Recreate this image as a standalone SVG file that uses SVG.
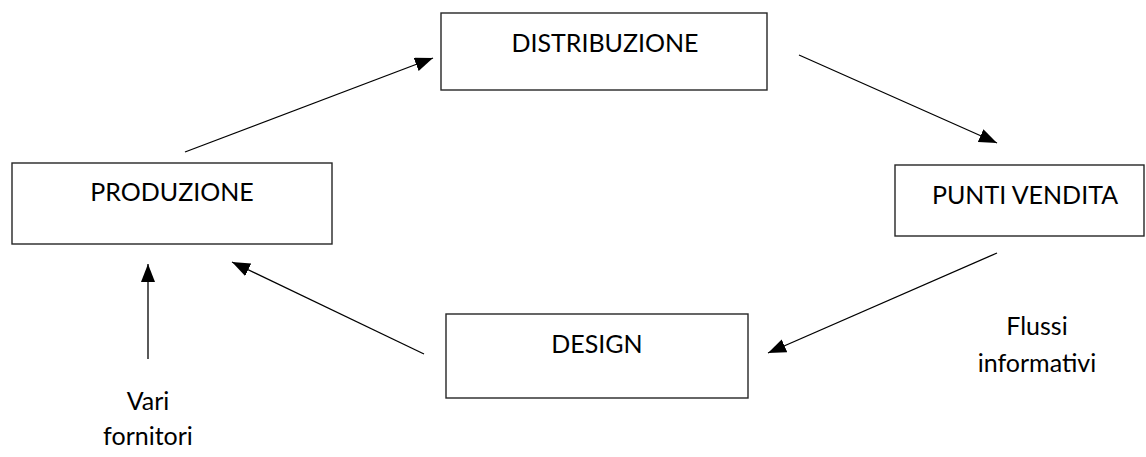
<svg xmlns="http://www.w3.org/2000/svg" width="1146" height="457" viewBox="0 0 1146 457">
  <style>
    .box { fill: #fff; stroke: #262626; stroke-width: 1.4; }
    .lbl { font-family: Lato, "Open Sans", sans-serif; font-size: 25px; fill: #000; text-anchor: middle; }
    .edge { stroke: #000; stroke-width: 1.3; fill: none; marker-end: url(#head); }
  </style>
  <defs>
    <marker id="head" markerUnits="userSpaceOnUse" markerWidth="19" markerHeight="15" refX="18" refY="7" orient="auto">
      <path d="M0,0 L18,7 L0,14 z" fill="#000"/>
    </marker>
  </defs>
  <rect width="1146" height="457" fill="#fff"/>

  <g id="distribuzione">
    <rect class="box" x="441" y="13" width="326" height="77"/>
    <text class="lbl" x="605" y="52">DISTRIBUZIONE</text>
  </g>
  <g id="produzione">
    <rect class="box" x="12" y="163" width="320" height="81"/>
    <text class="lbl" x="172" y="201">PRODUZIONE</text>
  </g>
  <g id="punti-vendita">
    <rect class="box" x="895" y="165" width="249" height="71"/>
    <text class="lbl" x="1025" y="204">PUNTI VENDITA</text>
  </g>
  <g id="design">
    <rect class="box" x="446" y="314" width="302" height="84"/>
    <text class="lbl" x="597" y="353">DESIGN</text>
  </g>
  <g id="fornitori">
    <text class="lbl" x="148" y="410">Vari</text>
    <text class="lbl" x="148" y="445">fornitori</text>
  </g>
  <g id="flussi">
    <text class="lbl" x="1037" y="335">Flussi</text>
    <text class="lbl" x="1037" y="372">informativi</text>
  </g>

  <g id="connectors">
    <line class="edge" x1="185" y1="152" x2="433" y2="58"/>
    <line class="edge" x1="799" y1="55" x2="997" y2="143"/>
    <line class="edge" x1="997" y1="253" x2="768" y2="353"/>
    <line class="edge" x1="424" y1="354" x2="232" y2="262"/>
    <line class="edge" x1="148" y1="359" x2="148" y2="264"/>
  </g>
</svg>
